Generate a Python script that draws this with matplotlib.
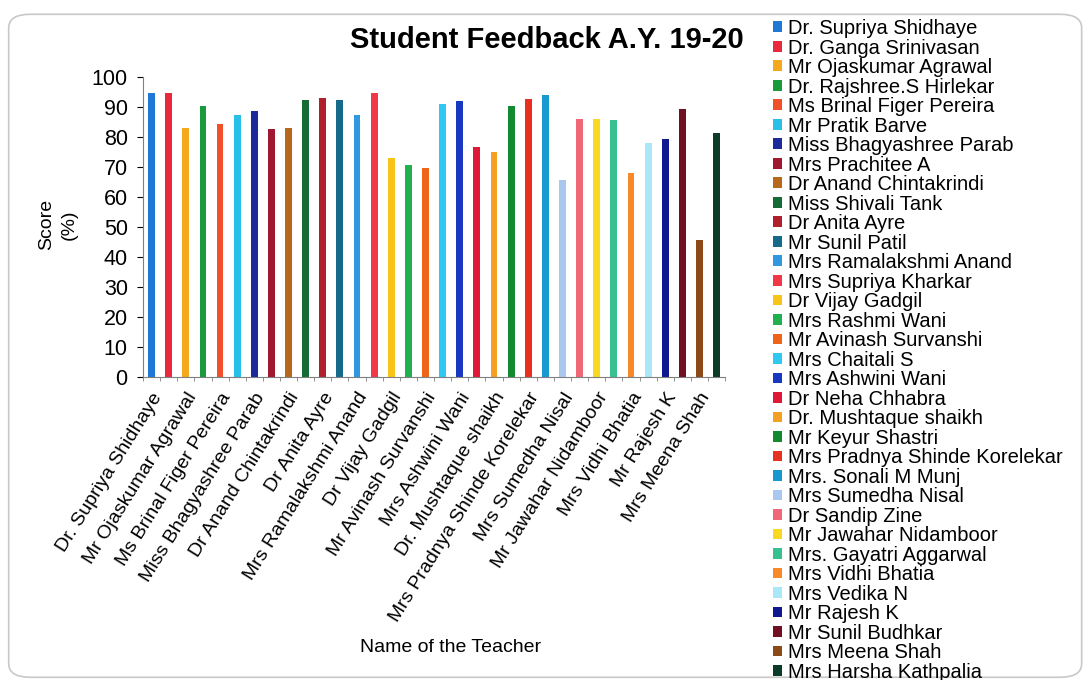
import matplotlib
matplotlib.use("Agg")
import matplotlib.pyplot as plt
from matplotlib.patches import FancyBboxPatch, Patch
import numpy as np

plt.rcParams['font.family'] = ['Liberation Sans', 'DejaVu Sans']

teachers = [
    "Dr. Supriya Shidhaye", "Dr. Ganga Srinivasan", "Mr Ojaskumar Agrawal",
    "Dr. Rajshree.S Hirlekar", "Ms Brinal Figer Pereira", "Mr Pratik Barve",
    "Miss Bhagyashree Parab", "Mrs Prachitee A", "Dr Anand Chintakrindi",
    "Miss Shivali Tank", "Dr Anita Ayre", "Mr Sunil Patil",
    "Mrs Ramalakshmi Anand", "Mrs Supriya Kharkar", "Dr Vijay Gadgil",
    "Mrs Rashmi Wani", "Mr Avinash Survanshi", "Mrs Chaitali S",
    "Mrs Ashwini Wani", "Dr Neha Chhabra", "Dr. Mushtaque shaikh",
    "Mr Keyur Shastri", "Mrs Pradnya Shinde Korelekar", "Mrs. Sonali M Munj",
    "Mrs Sumedha Nisal", "Dr Sandip Zine", "Mr Jawahar Nidamboor",
    "Mrs. Gayatri Aggarwal", "Mrs Vidhi Bhatia", "Mrs Vedika N",
    "Mr Rajesh K", "Mr Sunil Budhkar", "Mrs Meena Shah", "Mrs Harsha Kathpalia",
]

scores = [
    94.7, 94.7, 83.0, 90.5, 84.2, 87.5, 88.6, 82.7, 83.0, 92.5,
    92.9, 92.3, 87.5, 94.7, 73.0, 70.7, 69.6, 90.9, 92.1, 76.7,
    75.1, 90.3, 92.8, 94.1, 65.7, 85.9, 86.1, 85.8, 68.1, 78.1,
    79.3, 89.3, 45.6, 81.3,
]

colors = [
    "#1f78d6", "#e8283c", "#f5a81c", "#1a9a3a", "#f0502a", "#28c0e8",
    "#1c2a9c", "#a01830", "#b8681c", "#156b35", "#b0202c", "#156a8a",
    "#3098e0", "#f03848", "#f8c418", "#20b050", "#f06418", "#30c8f0",
    "#1838c0", "#e01838", "#f4a020", "#148a30", "#e83020", "#1898d0",
    "#a8c8f0", "#f06878", "#f8d820", "#38c090", "#f88828", "#a8e8f8",
    "#101890", "#701020", "#8c4a18", "#0c3c28",
]

yticks = list(range(0, 101, 10))

fig = plt.figure(figsize=(10.86, 6.8), dpi=100)
fig.patch.set_facecolor("white")

border = FancyBboxPatch((0.008, 0.004), 0.988, 0.975,
                        boxstyle="round,pad=0,rounding_size=0.02",
                        transform=fig.transFigure, facecolor="none",
                        edgecolor="#c8c8c8", linewidth=1.2)
fig.patches.append(border)

ax = fig.add_axes([0.1317, 0.4456, 0.536, 0.441])
x = np.arange(len(teachers))
ax.bar(x, scores, width=0.4, color=colors, label=teachers)

ax.set_xlim(-0.5, len(teachers) - 0.5)
ax.set_ylim(0, 100)
ax.set_yticks(yticks)
ax.tick_params(axis='y', labelsize=15.5, length=4, direction='out', pad=7)
ax.set_xticks(x[::2])
ax.set_xticklabels(teachers[::2], rotation=58, ha='right',
                   rotation_mode='anchor', fontsize=14)
ax.tick_params(axis='x', length=0, pad=9)
ax.set_xticks(np.arange(-0.5, len(teachers), 1), minor=True)
ax.tick_params(axis='x', which='minor', length=3, color="#808080")
for s in ['top', 'right']:
    ax.spines[s].set_visible(False)
ax.spines['left'].set_color("#808080")
ax.spines['bottom'].set_color("#808080")

fig.text(0.043, 0.67, "Score", rotation=90, ha='center', va='center', fontsize=14)
fig.text(0.064, 0.67, "(%)", rotation=90, ha='center', va='center', fontsize=14)
fig.text(0.415, 0.048, "Name of the Teacher", ha='center', va='center', fontsize=14)
fig.text(0.504, 0.941, "Student Feedback A.Y. 19-20", ha='center', va='center',
         fontsize=21, fontweight='bold')

handles = [Patch(facecolor=c) for c in colors]
fig.legend(handles, teachers, loc='upper left', bbox_to_anchor=(0.712, 0.972),
           frameon=False, fontsize=14.5, handlelength=0.45, handleheight=0.45,
           handletextpad=0.3, labelspacing=0.025, borderaxespad=0, borderpad=0)

fig.savefig("out.png", dpi=100, facecolor="white")
